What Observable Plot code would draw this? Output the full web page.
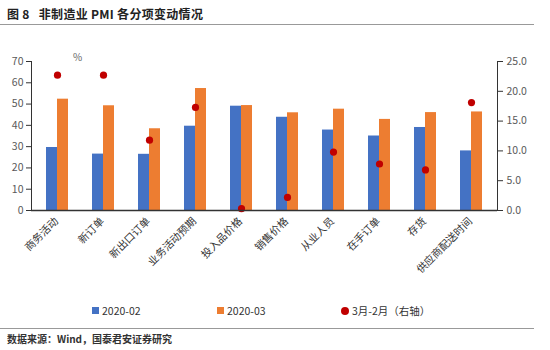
<!DOCTYPE html>
<html>
<head>
<meta charset="utf-8">
<script src="https://cdn.jsdelivr.net/npm/d3@7"></script>
<script src="https://cdn.jsdelivr.net/npm/@observablehq/plot@0.6"></script>
<style>
  body { margin: 0; width: 550px; height: 350px; background: #fff; position: relative; overflow: hidden;
         font-family: "Noto Sans CJK SC", "Noto Sans", sans-serif; }
  #title { position: absolute; left: 7px; top: 5px; font-size: 12px; font-weight: bold; color: #222; letter-spacing: 0.3px; }
  #topline { position: absolute; left: 0; top: 24px; width: 534px; height: 0; border-top: 1.5px solid #999; }
  #chart { position: absolute; left: 0; top: 30px; }
  #pct { position: absolute; left: 73px; top: 49px; font-size: 10px; color: #666; }
  .leg { position: absolute; top: 303px; font-size: 10.5px; color: #333; display: flex; align-items: center; }
  .sw { width: 7px; height: 7px; margin-right: 3px; }
  #botline { position: absolute; left: 0; top: 328px; width: 534px; height: 0; border-top: 1.5px solid #999; }
  #caption { position: absolute; left: 7px; top: 331px; font-size: 10px; font-weight: bold; color: #333; }
</style>
</head>
<body>
<div id="title">图 8&nbsp;&nbsp;&nbsp;非制造业 PMI 各分项变动情况</div>
<div id="topline"></div>
<div id="chart"></div>
<div id="pct">%</div>
<div class="leg" style="left:92px"><div class="sw" style="background:#4472C4"></div>2020-02</div>
<div class="leg" style="left:217px"><div class="sw" style="background:#ED7D31"></div>2020-03</div>
<div class="leg" style="left:341px"><div class="sw" style="background:#C00000;border-radius:50%;width:8px;height:8px"></div>3月-2月（右轴）</div>
<div id="botline"></div>
<div id="caption">数据来源：Wind，国泰君安证券研究</div>
<script>
const categories = ["商务活动","新订单","新出口订单","业务活动预期","投入品价格","销售价格","从业人员","在手订单","存货","供应商配送时间"];
const feb = [29.6, 26.5, 26.4, 39.6, 49.0, 43.8, 37.8, 35.0, 39.0, 28.0];
const mar = [52.3, 49.2, 38.4, 57.3, 49.3, 45.9, 47.6, 42.8, 46.0, 46.3];
const diff = [22.7, 22.7, 11.8, 17.3, 0.3, 2.2, 9.8, 7.8, 6.8, 18.1];
const leftTicks = [0, 10, 20, 30, 40, 50, 60, 70];
const rightTicks = [0, 5, 10, 15, 20, 25];
const leftMax = 70, rightMax = 25;
const k = leftMax / rightMax;

const data = categories.map((c, i) => ({cat: c, feb: feb[i], mar: mar[i], diff: diff[i]}));

const chart = Plot.plot({
  width: 550,
  height: 260,
  marginTop: 31,
  marginBottom: 80,
  marginLeft: 31,
  marginRight: 53,
  style: {fontFamily: "'Noto Sans CJK SC', 'Noto Sans', sans-serif", fontSize: "10.5px", color: "#404040", background: "transparent"},
  x: {domain: categories, paddingInner: 0.53, paddingOuter: 0.265, axis: null},
  y: {domain: [0, leftMax], axis: null},
  marks: [
    Plot.barY(data, {x: "cat", y: "feb", fill: "#4472C4", insetRight: 11}),
    Plot.barY(data, {x: "cat", y: "mar", fill: "#ED7D31", insetLeft: 11}),
    Plot.dot(data, {x: "cat", y: d => d.diff * k, r: 3.6, fill: "#C00000"}),
    Plot.axisY(leftTicks, {anchor: "left", tickSize: 5, tickPadding: 3, stroke: "#333", fill: "#595959", label: null}),
    Plot.axisY(rightTicks.map(v => v * k), {anchor: "right", tickSize: 5, tickPadding: 4, stroke: "#333", fill: "#595959",
      tickFormat: d => (d / k).toFixed(1), label: null}),
    Plot.axisX({tickSize: 0, tickRotate: -45, tickPadding: 4, dx: -1, dy: 5, fill: "#333", fontSize: 10.5, label: null}),
    Plot.frame({anchor: "left", stroke: "#333"}),
    Plot.frame({anchor: "right", stroke: "#333"}),
    Plot.ruleY([0], {stroke: "#333", strokeWidth: 1.5})
  ]
});
document.getElementById("chart").appendChild(chart);
</script>
</body>
</html>
